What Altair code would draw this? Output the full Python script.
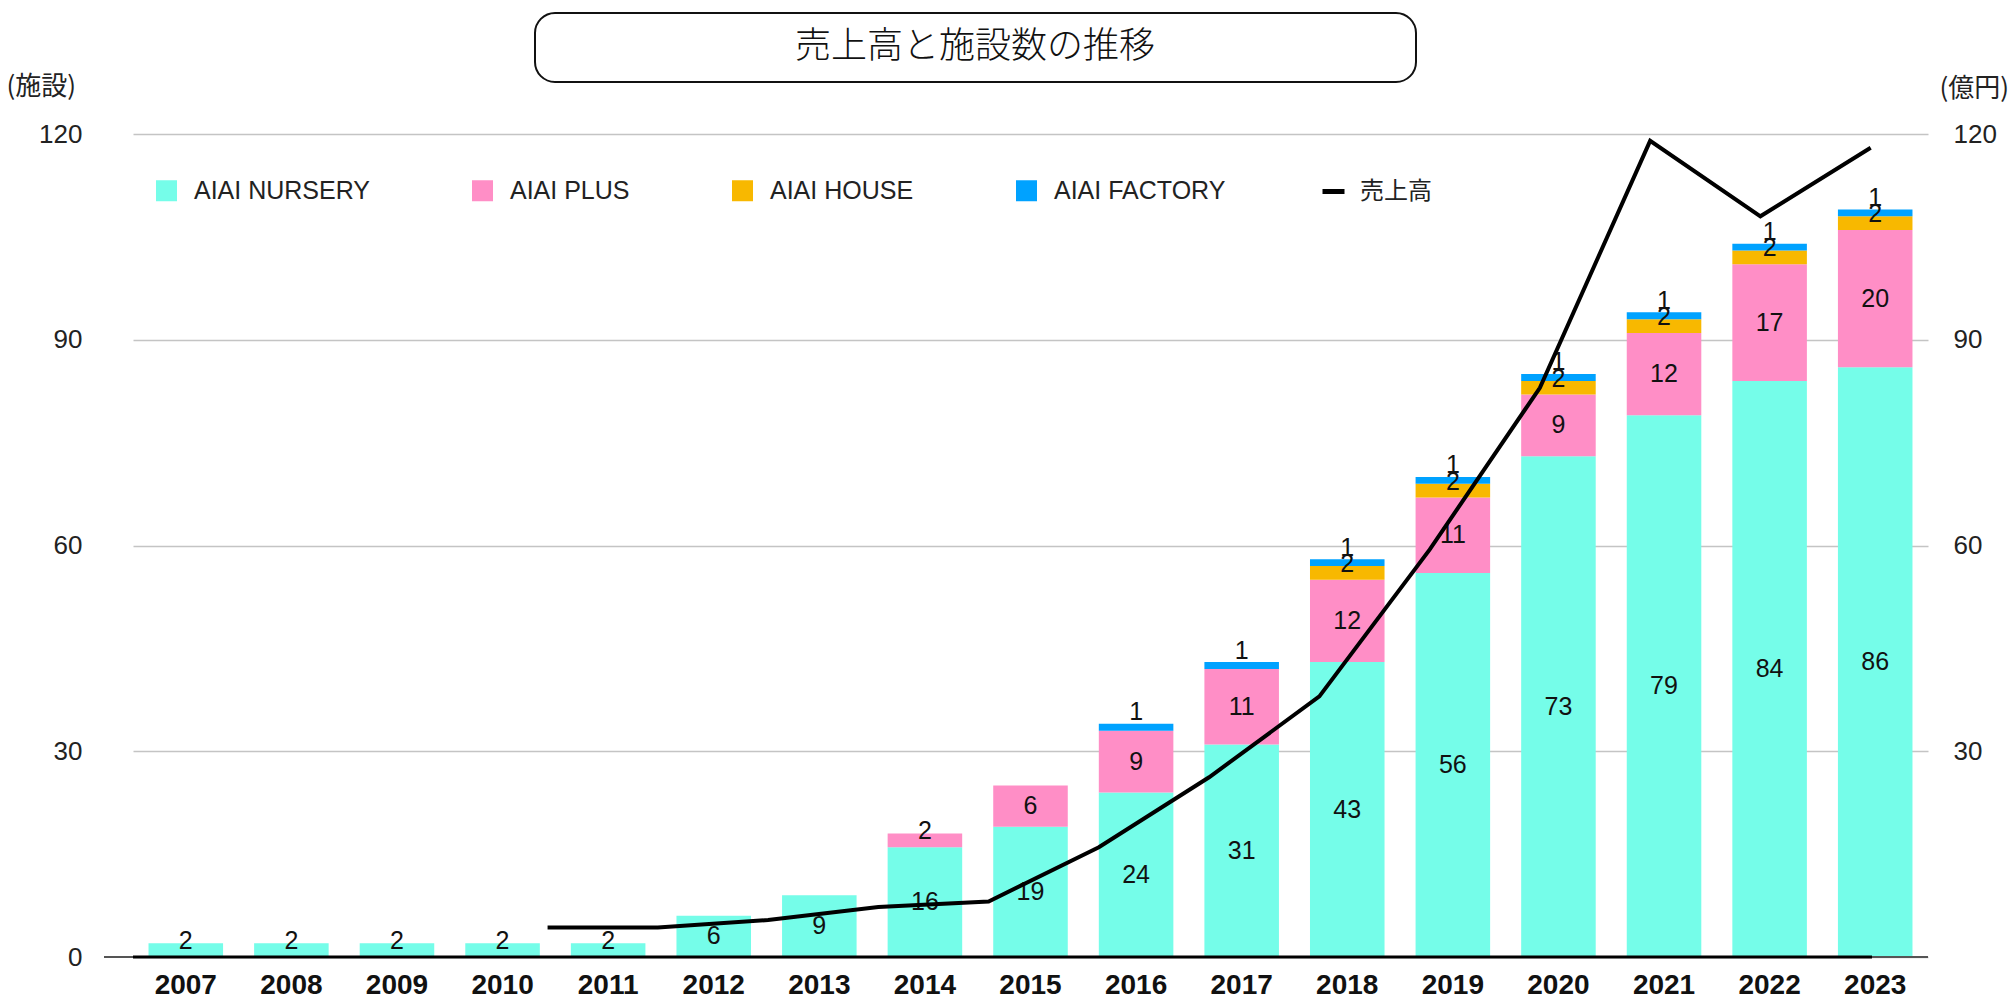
import altair as alt
import pandas as pd

# ---------------- data ----------------
years = list(range(2007, 2024))
series = ["AIAI NURSERY", "AIAI PLUS", "AIAI HOUSE", "AIAI FACTORY"]
nursery = [2, 2, 2, 2, 2, 6, 9, 16, 19, 24, 31, 43, 56, 73, 79, 84, 86]
plus = [0, 0, 0, 0, 0, 0, 0, 2, 6, 9, 11, 12, 11, 9, 12, 17, 20]
house = [0, 0, 0, 0, 0, 0, 0, 0, 0, 0, 0, 2, 2, 2, 2, 2, 2]
factory = [0, 0, 0, 0, 0, 0, 0, 0, 0, 1, 1, 1, 1, 1, 1, 1, 1]
colors = ["#75FDE9", "#FF8EC6", "#F8B800", "#00A2FF"]

sales_label = "売上高"
sales_years = list(range(2011, 2024))
sales = [4.3, 4.3, 5.4, 7.3, 8.1, 16.0, 26.2, 38.0, 59.4, 83.0, 119.0, 108.0, 118.0]

left_ticks = [0, 30, 60, 90, 120]
right_ticks = [30, 60, 90, 120]
chart_title = "売上高と施設数の推移"
left_unit = "(施設)"
right_unit = "(億円)"

# ---------------- tables ----------------
rows = []
for si, (name, vals) in enumerate(zip(series, [nursery, plus, house, factory])):
    for y, v in zip(years, vals):
        if v > 0:
            rows.append({"year": y, "series": name, "value": v, "idx": si})
df = pd.DataFrame(rows)
sdf = pd.DataFrame({"year": sales_years, "sales": sales})

LATIN = "Liberation Sans, Arial, Helvetica, sans-serif"
JP = "Noto Sans CJK JP, Noto Sans CJK SC, sans-serif"
W, H = 1795, 823

# ---------------- bars + labels ----------------
xband = alt.X(
    "year:O",
    title=None,
    scale=alt.Scale(paddingInner=0.294, paddingOuter=0.147),
    axis=alt.Axis(
        labelAngle=0, labelFont=LATIN, labelFontSize=28, labelFontWeight="bold",
        labelColor="#111", labelPadding=14, ticks=False, domain=False, grid=False,
    ),
)
yleft_axis = alt.Axis(
    values=left_ticks, grid=True, gridColor="#C4C4C4", gridWidth=1.5,
    domain=False, ticks=False, labelPadding=51, labelFont=LATIN,
    labelFontSize=26, labelColor="#222",
    titleAngle=0, titleX=-127, titleY=-48, titleAlign="left",
    titleBaseline="middle", titleFont=JP, titleFontSize=26,
    titleFontWeight="normal", titleColor="#222",
)
yscale = alt.Scale(domain=[0, 120], nice=False)

base = alt.Chart(df)
bars = base.mark_bar().encode(
    x=xband,
    y=alt.Y("value:Q", stack="zero", scale=yscale, axis=yleft_axis, title=left_unit),
    color=alt.Color(
        "series:N",
        scale=alt.Scale(domain=series, range=colors),
        legend=alt.Legend(
            title=None, orient="none", legendX=21, legendY=44, direction="horizontal",
            columns=4, columnPadding=100, symbolType="square", symbolSize=441,
            symbolStrokeWidth=0, symbolOpacity=1, labelOffset=15, labelFont=LATIN,
            labelFontSize=25, labelColor="#222", padding=0, labelLimit=0,
        ),
    ),
    order=alt.Order("idx:Q", sort="ascending"),
)

stacked = base.transform_stack(
    stack="value", groupby=["year"], as_=["v0", "v1"],
    sort=[alt.SortField("idx", order="ascending")],
).transform_calculate(mid="(datum.v0 + datum.v1) / 2")


def label_layer(flt, dy):
    return stacked.transform_filter(flt).mark_text(
        font=LATIN, fontSize=25, color="#111", align="center", baseline="middle", dy=dy
    ).encode(
        x=alt.X("year:O", title=None),
        y=alt.Y("mid:Q", scale=yscale, title=left_unit),
        text="value:Q",
    )


lab_big = label_layer("datum.value > 2", 0)
lab_two = label_layer("datum.value == 2", -9)
lab_one = label_layer("datum.value == 1", -15)

bars_group = alt.layer(bars, lab_big, lab_two, lab_one)

# ---------------- line ----------------
line = alt.Chart(sdf).transform_calculate(
    name="'" + sales_label + "'"
).mark_line(strokeWidth=4, strokeJoin="miter").encode(
    x=alt.X("year:Q", scale=alt.Scale(domain=[2007.24, 2023.52], nice=False, zero=False), axis=None),
    y=alt.Y(
        "sales:Q", scale=yscale, title=right_unit,
        axis=alt.Axis(
            orient="right", values=right_ticks, grid=False, domain=False, ticks=False,
            labelPadding=25, labelAlign="left", labelFont=LATIN, labelFontSize=26,
            labelColor="#222", titleAngle=0, titleX=11, titleY=-46, titleAlign="left",
            titleBaseline="middle", titleFont=JP, titleFontSize=26,
            titleFontWeight="normal", titleColor="#222",
        ),
    ),
    stroke=alt.Stroke(
        "name:N",
        scale=alt.Scale(domain=[sales_label], range=["#000000"]),
        legend=alt.Legend(
            title=None, orient="none", legendX=1187, legendY=44, symbolType="stroke",
            symbolSize=484, symbolStrokeWidth=5, labelOffset=13, labelFont=JP,
            labelFontSize=24, labelColor="#222", padding=0, labelLimit=0,
        ),
    ),
)

# ---------------- decorations ----------------
one = alt.Data(values=[{}])
zero_gray = alt.Chart(one).mark_rule(color="#555555", strokeWidth=2).encode(
    x=alt.value(-29), x2=alt.value(W), y=alt.value(H)
)
zero_black = alt.Chart(one).mark_rule(color="#000000", strokeWidth=3).encode(
    x=alt.value(0), x2=alt.value(1739), y=alt.value(H)
)
title_box = alt.Chart(one).mark_rect(
    fill="white", stroke="#111", strokeWidth=2, cornerRadius=20
).encode(x=alt.value(402), x2=alt.value(1283), y=alt.value(-121), y2=alt.value(-52))
title_text = alt.Chart(one).mark_text(
    text=chart_title, font=JP, fontSize=36, fontWeight=300, color="#111",
    align="center", baseline="middle",
).encode(x=alt.value(842), y=alt.value(-87))

chart = alt.layer(
    bars_group, zero_gray, zero_black, line, title_box, title_text
).resolve_scale(
    x="independent", y="independent"
).properties(
    width=W, height=H,
    padding={"left": 125, "top": 126, "right": 80, "bottom": 42},
    autosize=alt.AutoSizeParams(type="none"),
).configure_view(stroke=None)

chart.save("out.html", embed_options={"renderer": "svg", "actions": False})
